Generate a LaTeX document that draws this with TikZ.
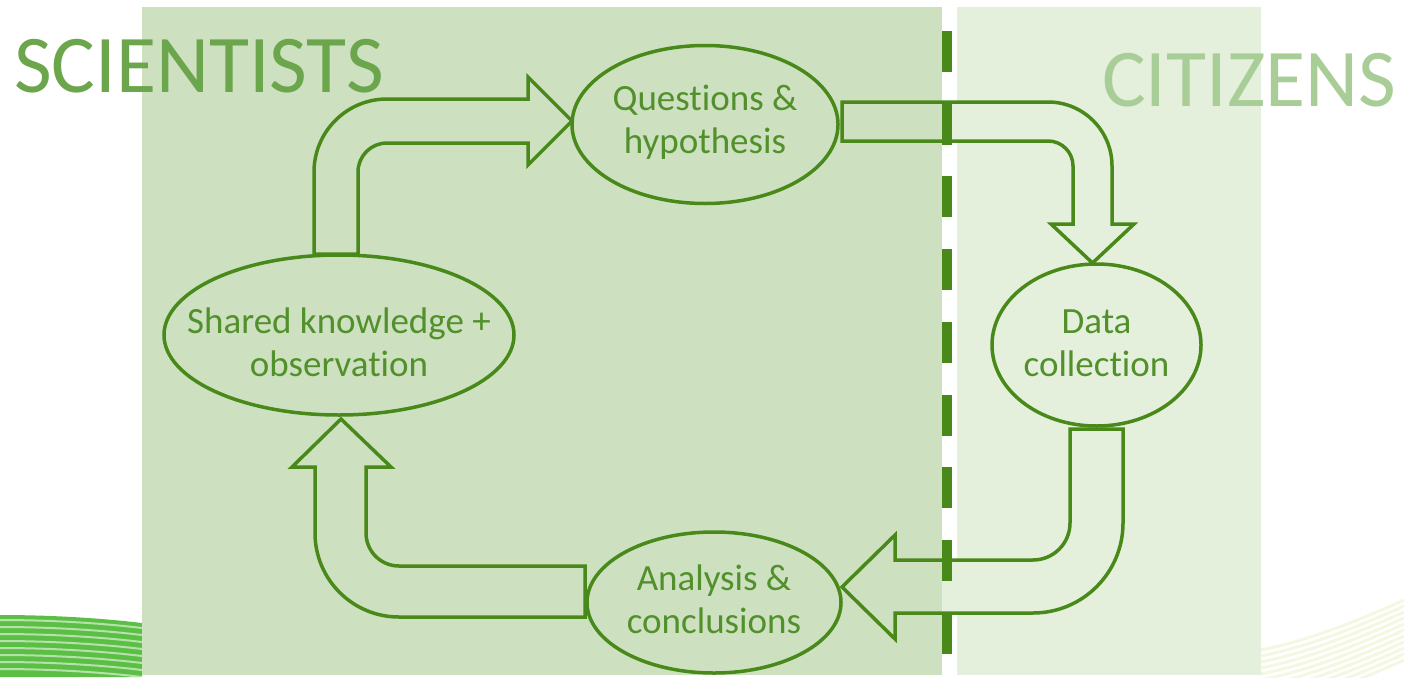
\documentclass[tikz,border=0pt]{standalone}
\usepackage{fontspec}
\setmainfont{Carlito}[Ligatures=NoCommon]
\usepackage{tikz}
\usetikzlibrary{shapes.geometric}

\definecolor{leafgreen}{HTML}{48891A}
\definecolor{textgreen}{HTML}{51902A}
\definecolor{scifill}{HTML}{CDE1C1}
\definecolor{citfill}{HTML}{E4F0DC}
\definecolor{scitext}{HTML}{6BA64C}
\definecolor{cittext}{HTML}{A9CD96}
\definecolor{swoosh}{HTML}{5CBF45}
\definecolor{faint}{HTML}{F4F8E2}

\begin{document}
\begin{tikzpicture}[x=1pt, y=-1pt,
    stage/.style={ellipse, draw=leafgreen, line width=3.5pt, inner sep=0pt},
    stagetext/.style={text=textgreen, align=center, inner sep=0pt, font=\fontsize{37}{43}\selectfont},
    blockarrow/.style={draw=leafgreen, line width=3.5pt, line join=miter},
    title/.style={anchor=base west, inner sep=0pt, font=\fontsize{82}{90}\selectfont}]
    \useasboundingbox (0,0) rectangle (1404,677);

    % Background
    \fill[swoosh] (0,615) .. controls (50,615) and (100,618) .. (142,623) -- (142,677) -- (0,677) -- cycle;
    \foreach \k in {0,...,7}
        \draw[white, opacity=0.55, line width=2pt] (0,620+7*\k) .. controls (50,620+7*\k) and (100,623+7*\k) .. (142,628+7*\k);
    \foreach \k in {0,...,10}
        \draw[faint, line width=3pt] (1261,650+6*\k) .. controls (1310,640+6*\k) and (1360,620+6*\k) .. (1404,600+6*\k);

    % Panels
    \fill[scifill] (142,7) rectangle (941.5,675);
    \fill[citfill] (956.5,7) rectangle (1261,675);
    \fill[citfill] (941.5,102) rectangle (956.5,141);
    \fill[citfill] (941.5,560) rectangle (956.5,613);

    % Titles
    \node (sci) [title, text=scitext] at (14,92) {SCIENTISTS};
    \node (cit) [title, text=cittext] at (1102,106) {CITIZENS};

    % Stages
    \node (qh) [stage, minimum width=266, minimum height=158,
        label={[stagetext, yshift=2pt]center:Questions \&\\hypothesis}] at (705,124.5) {};
    \node (skn) [stage, minimum width=350, minimum height=160,
        label={[stagetext, yshift=-7pt]center:Shared knowledge +\\observation}] at (339,335) {};
    \node (dc) [stage, minimum width=209, minimum height=162,
        label={[stagetext, yshift=2pt]center:Data\\collection}] at (1096.5,345) {};
    \node (ac) [stage, minimum width=254, minimum height=141,
        label={[stagetext, yshift=3pt]center:Analysis \&\\conclusions}] at (714,602.5) {};

    % Arrows
    \draw[blockarrow] (314,254) -- (314,172) arc[start angle=180, end angle=270, radius=73]
        -- (528,99) -- (528,77) -- (572,121) -- (528,165) -- (528,143) -- (387,143)
        arc[start angle=270, end angle=180, radius=29] -- (358,254) -- cycle;
    \draw[blockarrow] (842,102) -- (1048,102) arc[start angle=270, end angle=360, radius=64]
        -- (1112,224) -- (1134,224) -- (1092.5,263) -- (1051,224) -- (1073,224) -- (1073,166)
        arc[start angle=0, end angle=-90, radius=25] -- (842,141) -- cycle;
    \draw[blockarrow] (1070,429) -- (1123,429) -- (1123,523) arc[start angle=0, end angle=90, radius=90]
        -- (895,613) -- (895,639) -- (842,587) -- (895,535) -- (895,560) -- (1033,560)
        arc[start angle=90, end angle=0, radius=37] -- cycle;
    \draw[blockarrow] (585,617) -- (399,617) arc[start angle=90, end angle=180, radius=84]
        -- (315,467) -- (292,467) -- (341,419) -- (391,467) -- (366,467) -- (366,533)
        arc[start angle=180, end angle=90, radius=33] -- (585,566) -- cycle;

    % Divider
    \draw[leafgreen, line width=10.5pt, dash pattern=on 41pt off 31.7pt] (947,31) -- (947,675);
\end{tikzpicture}
\end{document}
